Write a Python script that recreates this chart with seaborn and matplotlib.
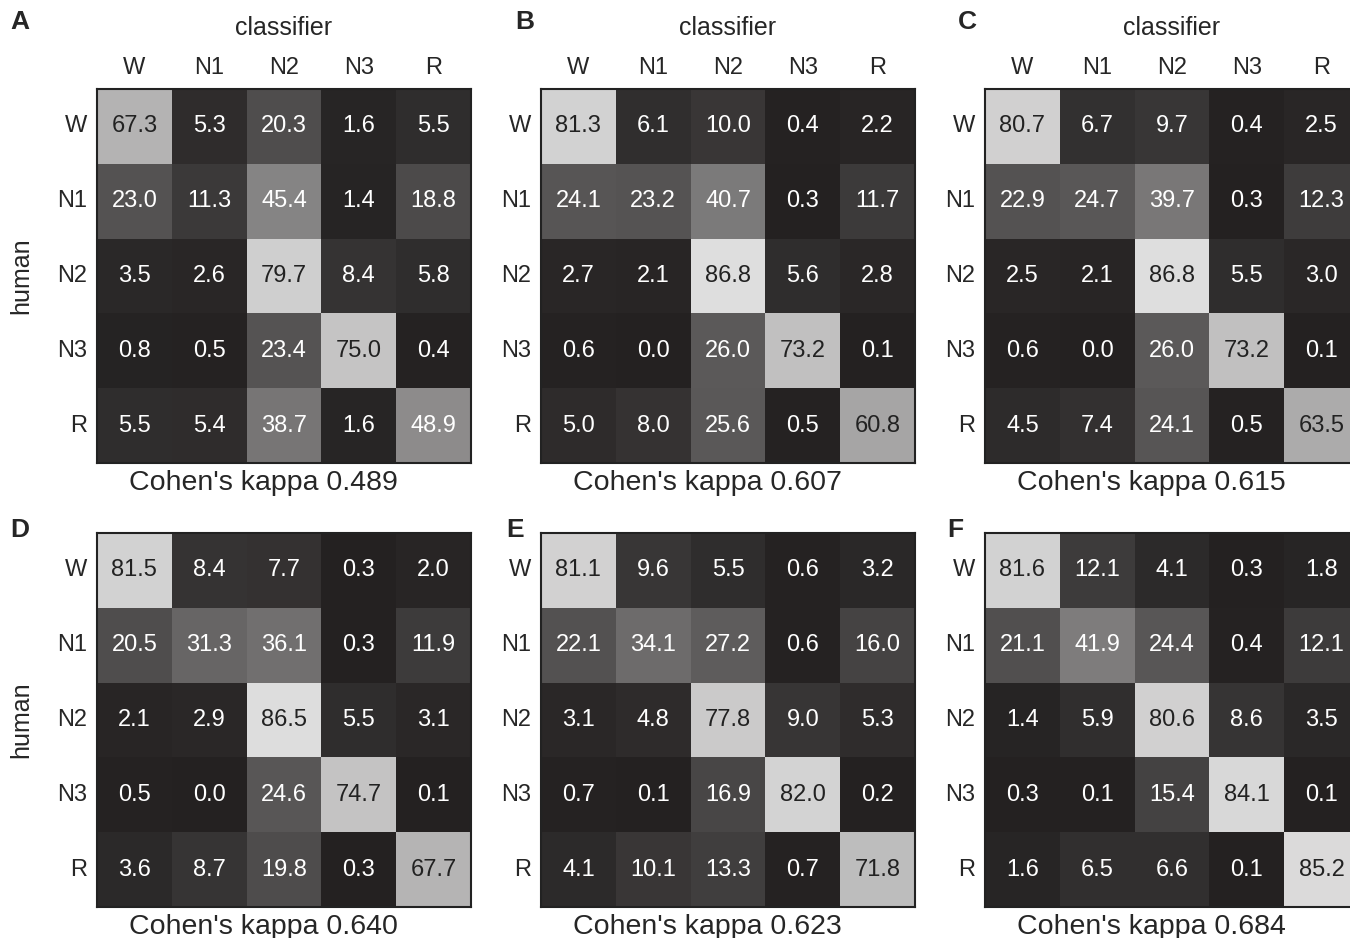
import numpy as np
import pandas as pd
import seaborn as sns
import matplotlib.pyplot as plt
from matplotlib.colors import LinearSegmentedColormap

# stage labels
stages = ["W", "N1", "N2", "N3", "R"]

# confusion matrices (percent), rows = human, cols = classifier
cm_a = [[67.3, 5.3, 20.3, 1.6, 5.5],
        [23.0, 11.3, 45.4, 1.4, 18.8],
        [3.5, 2.6, 79.7, 8.4, 5.8],
        [0.8, 0.5, 23.4, 75.0, 0.4],
        [5.5, 5.4, 38.7, 1.6, 48.9]]
cm_b = [[81.3, 6.1, 10.0, 0.4, 2.2],
        [24.1, 23.2, 40.7, 0.3, 11.7],
        [2.7, 2.1, 86.8, 5.6, 2.8],
        [0.6, 0.0, 26.0, 73.2, 0.1],
        [5.0, 8.0, 25.6, 0.5, 60.8]]
cm_c = [[80.7, 6.7, 9.7, 0.4, 2.5],
        [22.9, 24.7, 39.7, 0.3, 12.3],
        [2.5, 2.1, 86.8, 5.5, 3.0],
        [0.6, 0.0, 26.0, 73.2, 0.1],
        [4.5, 7.4, 24.1, 0.5, 63.5]]
cm_d = [[81.5, 8.4, 7.7, 0.3, 2.0],
        [20.5, 31.3, 36.1, 0.3, 11.9],
        [2.1, 2.9, 86.5, 5.5, 3.1],
        [0.5, 0.0, 24.6, 74.7, 0.1],
        [3.6, 8.7, 19.8, 0.3, 67.7]]
cm_e = [[81.1, 9.6, 5.5, 0.6, 3.2],
        [22.1, 34.1, 27.2, 0.6, 16.0],
        [3.1, 4.8, 77.8, 9.0, 5.3],
        [0.7, 0.1, 16.9, 82.0, 0.2],
        [4.1, 10.1, 13.3, 0.7, 71.8]]
cm_f = [[81.6, 12.1, 4.1, 0.3, 1.8],
        [21.1, 41.9, 24.4, 0.4, 12.1],
        [1.4, 5.9, 80.6, 8.6, 3.5],
        [0.3, 0.1, 15.4, 84.1, 0.1],
        [1.6, 6.5, 6.6, 0.1, 85.2]]

panel_letters = ["A", "B", "C", "D", "E", "F"]
kappas = [0.489, 0.607, 0.615, 0.640, 0.623, 0.684]
matrices = [cm_a, cm_b, cm_c, cm_d, cm_e, cm_f]

sns.set_style("white")
plt.rcParams['font.family'] = ['Liberation Sans', 'DejaVu Sans']

cmap = LinearSegmentedColormap.from_list("grey", [(0.14, 0.13, 0.13), (0.98, 0.98, 0.98)])

W, H = 1350, 938
fig = plt.figure(figsize=(W / 100, H / 100), dpi=100)

lefts = [97, 541, 985]
tops = [89, 533]
size = 374
# panel letter spots (px)
letter_xy = [(20, 22), (525, 22), (967, 22), (20, 530), (515, 530), (955, 530)]

for i, cm in enumerate(matrices):
    r, c = divmod(i, 3)
    l, t = lefts[c], tops[r]
    ax = fig.add_axes([l / W, 1 - (t + size) / H, size / W, size / H])
    df = pd.DataFrame(cm, index=stages, columns=stages)
    sns.heatmap(df, ax=ax, cmap=cmap, vmin=0, vmax=100, cbar=False, annot=False)
    vals = np.array(cm)
    for yi in range(5):
        for xi in range(5):
            v = vals[yi, xi]
            ax.text(xi + 0.5, yi + 0.5, f"{v:.1f}", ha="center", va="center",
                    fontsize=17, color="#222222" if v > 55 else "white")
    ax.tick_params(length=0, labelsize=17, pad=7)
    ax.set_yticklabels(stages, rotation=0)
    if r == 0:
        ax.xaxis.tick_top()
        ax.set_xticklabels(stages, rotation=0)
        ax.set_xlabel("classifier", fontsize=18, labelpad=16)
        ax.xaxis.set_label_position("top")
    else:
        ax.set_xticks([])
        ax.set_xlabel("")
    if c == 0:
        ax.set_ylabel("human", fontsize=18, labelpad=17)
    else:
        ax.set_ylabel("")
    for s in ax.spines.values():
        s.set_visible(True)
        s.set_color("#222222")
        s.set_linewidth(1.5)
    fig.text((l + size / 2 - 21) / W, 1 - (t + size + 20) / H,
             f"Cohen's kappa {kappas[i]:.3f}", ha="center", va="center", fontsize=20.5)
    lx, ly = letter_xy[i]
    fig.text(lx / W, 1 - ly / H, panel_letters[i], fontsize=19,
             fontweight="bold", ha="center", va="center")

fig.savefig("out.png", dpi=100)
